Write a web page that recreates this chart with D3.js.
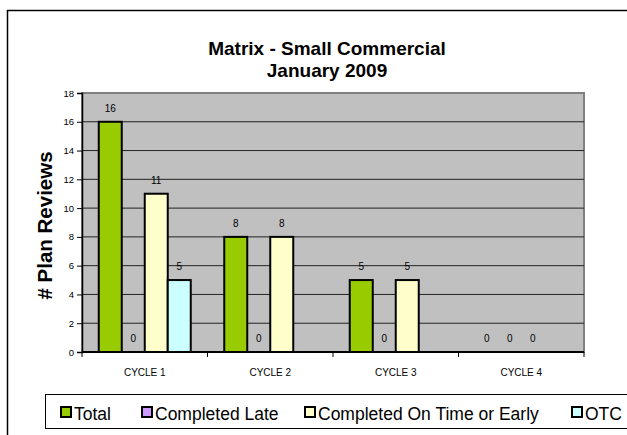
<!doctype html>
<html>
<head>
<meta charset="utf-8">
<script src="https://cdn.jsdelivr.net/npm/d3@7"></script>
<style>
  body { margin: 0; background: #fff; }
  text { font-family: Arial, "Liberation Sans", sans-serif; fill: #000; }
</style>
</head>
<body>
<svg id="chart" width="627" height="435"></svg>
<script>
const cycles = ["CYCLE 1", "CYCLE 2", "CYCLE 3", "CYCLE 4"];
const seriesNames = ["Total", "Completed Late", "Completed On Time or Early", "OTC"];
const total = [16, 8, 5, 0];
const late = [0, 0, 0, 0];
const onTime = [11, 8, 5, 0];
const otc = [5, null, null, null]; // OTC only reported for cycle 1
const colors = ["#99cc00", "#cc99ff", "#ffffcc", "#ccffff"];
const yTicks = d3.range(0, 19, 2);

const series = [total, late, onTime, otc];

const svg = d3.select("#chart");
const m = {left: 82, right: 584, top: 93, bottom: 352};

// outer chart frame
svg.append("rect").attr("x", 7.5).attr("y", 10.5).attr("width", 640).attr("height", 440)
    .attr("fill", "#fff").attr("stroke", "#000").attr("stroke-width", 1.5);

const x0 = d3.scaleBand().domain(cycles).range([m.left, m.right]);
const gap = x0.bandwidth() * 0.1335;
const x1 = d3.scaleBand().domain(d3.range(4)).range([gap, x0.bandwidth() - gap]);
const y = d3.scaleLinear().domain([0, 18]).range([m.bottom, m.top]);

// plot area
svg.append("rect").attr("x", m.left).attr("y", m.top)
    .attr("width", m.right - m.left).attr("height", m.bottom - m.top)
    .attr("fill", "#c0c0c0").attr("stroke", "#808080").attr("stroke-width", 2);

svg.append("g").selectAll("line").data(yTicks.filter(d => d > 0 && d < 18)).join("line")
    .attr("x1", m.left).attr("x2", m.right)
    .attr("y1", d => y(d)).attr("y2", d => y(d))
    .attr("stroke", "#222").attr("stroke-width", 1);

// bars
const cells = [];
series.forEach((s, i) => s.forEach((v, j) => { if (v !== null) cells.push({i, j, v}); }));

const g = svg.append("g");
g.selectAll("rect").data(cells.filter(d => d.v > 0)).join("rect")
    .attr("x", d => x0(cycles[d.j]) + x1(d.i))
    .attr("y", d => y(d.v))
    .attr("width", x1.bandwidth())
    .attr("height", d => y(0) - y(d.v))
    .attr("fill", d => colors[d.i])
    .attr("stroke", "#000").attr("stroke-width", 2);

g.selectAll("text").data(cells).join("text")
    .attr("x", d => x0(cycles[d.j]) + x1(d.i) + x1.bandwidth() / 2)
    .attr("y", d => y(d.v) - 10)
    .attr("text-anchor", "middle")
    .attr("font-size", 10)
    .text(d => d.v);

// axes
const yAxis = svg.append("g").attr("transform", `translate(${m.left},0)`)
    .call(d3.axisLeft(y).tickValues(yTicks).tickSize(5).tickPadding(3));
yAxis.select(".domain").attr("stroke-width", 1.5);
yAxis.selectAll("text").attr("font-size", 9.5).attr("font-family", "Arial, 'Liberation Sans', sans-serif");

const xAxis = svg.append("g").attr("transform", `translate(0,${m.bottom})`);
xAxis.append("line").attr("x1", m.left).attr("x2", m.right).attr("stroke", "#000").attr("stroke-width", 2);
xAxis.selectAll(".tk").data(cycles.concat([null])).join("line").attr("class", "tk")
    .attr("x1", (d, i) => m.left + i * x0.step()).attr("x2", (d, i) => m.left + i * x0.step())
    .attr("y1", 0).attr("y2", 5).attr("stroke", "#000");
xAxis.selectAll("text").data(cycles).join("text")
    .attr("x", d => x0(d) + x0.bandwidth() / 2).attr("y", 24)
    .attr("text-anchor", "middle").attr("font-size", 10).text(d => d);

// titles
svg.append("text").attr("x", 327).attr("y", 55).attr("text-anchor", "middle")
    .attr("font-size", 19).attr("font-weight", "bold").text("Matrix - Small Commercial");
svg.append("text").attr("x", 327).attr("y", 77).attr("text-anchor", "middle")
    .attr("font-size", 19).attr("font-weight", "bold").text("January 2009");
svg.append("text").attr("transform", `translate(52,${(m.top + m.bottom) / 2 + 3}) rotate(-90)`)
    .attr("text-anchor", "middle").attr("font-size", 20.5).attr("font-weight", "bold")
    .text("# Plan Reviews");

// legend
svg.append("rect").attr("x", 45.5).attr("y", 394.5).attr("width", 600).attr("height", 34)
    .attr("fill", "#fff").attr("stroke", "#000").attr("stroke-width", 1);
const legendX = [61, 142, 305, 572];
const lg = svg.append("g").selectAll("g").data(seriesNames).join("g")
    .attr("transform", (d, i) => `translate(${legendX[i]},407)`);
lg.append("rect").attr("width", 10).attr("height", 10)
    .attr("fill", (d, i) => colors[i]).attr("stroke", "#000").attr("stroke-width", 2);
lg.append("text").attr("x", 13).attr("y", 12.5).attr("font-size", 17.5).text(d => d);
</script>
</body>
</html>
